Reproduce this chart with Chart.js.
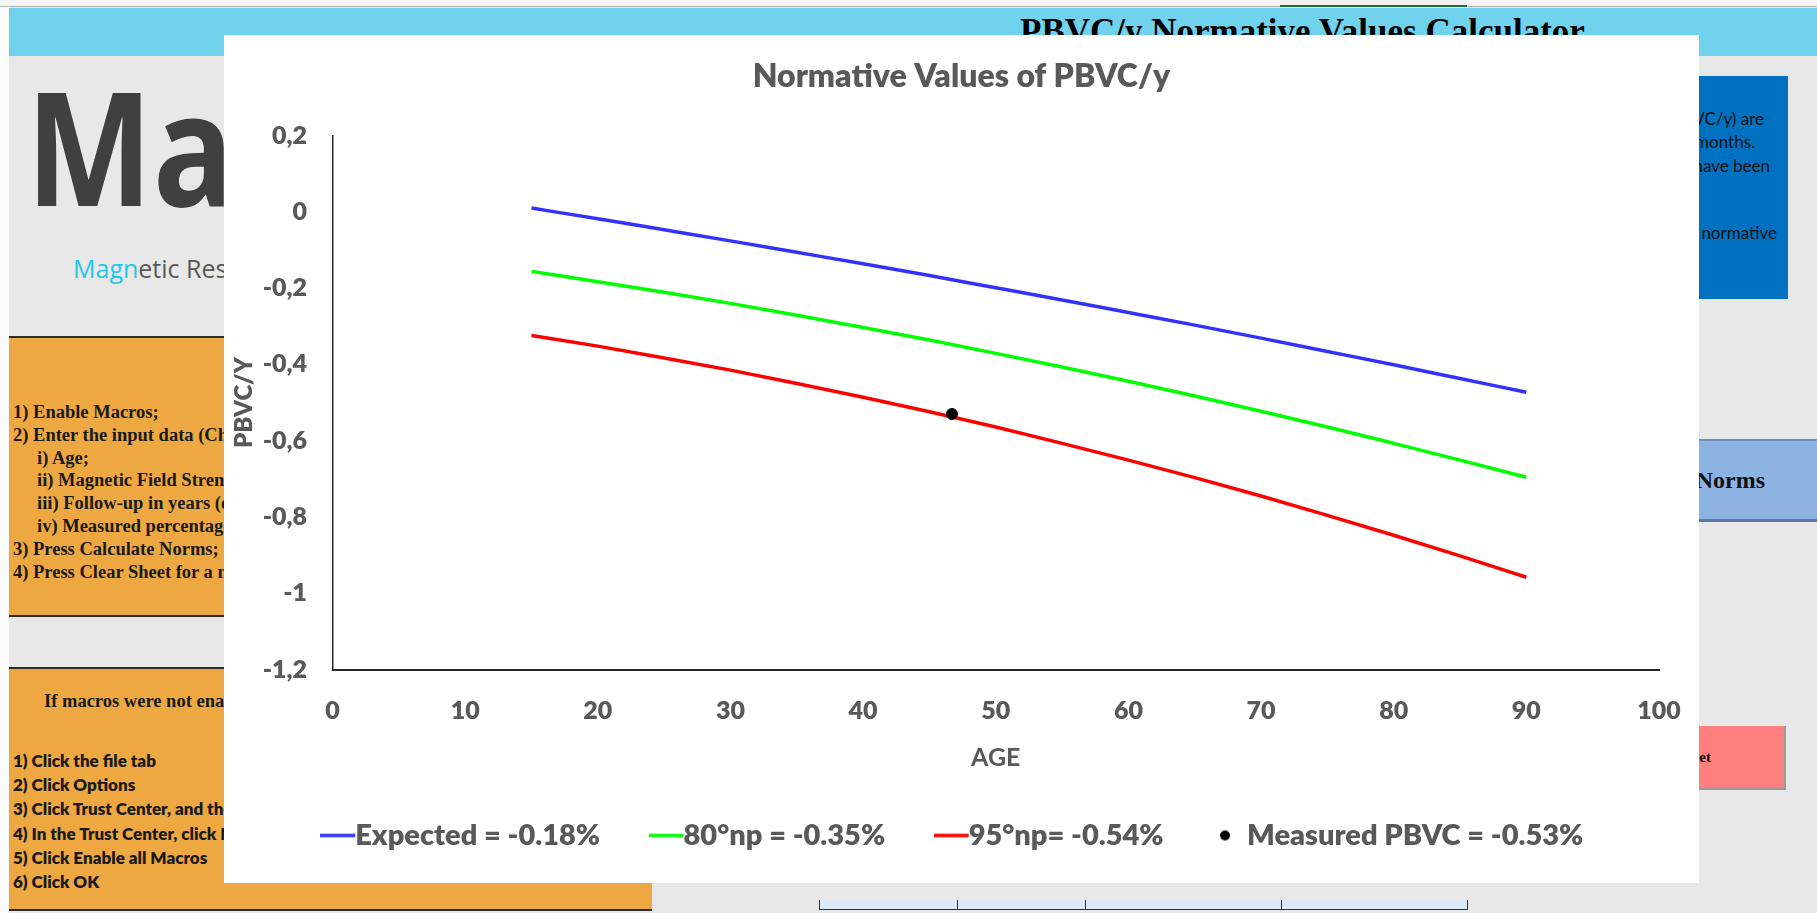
<!DOCTYPE html>
<html>
<head>
<meta charset="utf-8">
<title>PBVC/y Normative Values Calculator</title>
<script src="https://cdn.jsdelivr.net/npm/chart.js@4.4.1/dist/chart.umd.min.js"></script>
<style>
  html, body { margin: 0; padding: 0; }
  body {
    width: 1817px; height: 913px; overflow: hidden; position: relative;
    background: #e8e8e8;
    font-family: Lato, 'Open Sans', sans-serif;
  }
  .abs { position: absolute; white-space: nowrap; }
  .serif { font-family: 'Liberation Serif', 'Times New Roman', serif; font-weight: bold; }
  .steps div { height: 22.8px; line-height: 22.8px; }
  .steps .ind { padding-left: 24px; }
  .macro div { height: 24.2px; line-height: 24.2px; }
  .note { line-height: 20px; height: 20px; font-size: 17px; color: #111; }
</style>
</head>
<body>

<!-- sheet frame -->
<div class="abs" style="left:0;top:0;width:1817px;height:6px;background:#f4f4f4;border-bottom:1px solid #b5b5b5"></div>
<div class="abs" style="left:1280px;top:5px;width:187px;height:2px;background:#1f6b3f"></div>
<div class="abs" style="left:0;top:7px;width:9px;height:906px;background:#fbfbfb"></div>

<!-- banner -->
<div class="abs" style="left:9px;top:8px;width:1808px;height:48px;background:#71d2ee"></div>
<div class="abs serif" style="left:1020px;top:14px;font-size:35px;line-height:1;color:#000">PBVC/y Normative Values Calculator</div>

<!-- logo -->
<div class="abs" style="left:26px;top:66px;font:bold 158px 'Open Sans',sans-serif;line-height:1;color:#404040;transform:scaleX(0.85);transform-origin:0 0">Magnims</div>
<div class="abs" style="left:73px;top:256px;font:25px 'Open Sans',sans-serif;line-height:1;color:#595959"><span style="color:#1fc8e8">Magn</span>etic Resonance Imaging in MS</div>

<!-- instructions -->
<div class="abs" style="left:9px;top:336px;width:700px;height:277px;background:#eda841;border-top:2px solid #2b2b2b;border-bottom:2px solid #2b2b2b"></div>
<div class="abs steps serif" style="left:13px;top:401px;font-size:18.5px;color:#1a1a1a">
  <div>1) Enable Macros;</div>
  <div>2) Enter the input data (Check the blue cells):</div>
  <div class="ind">i) Age;</div>
  <div class="ind">ii) Magnetic Field Strength;</div>
  <div class="ind">iii) Follow-up in years (e.g. 1.5);</div>
  <div class="ind">iv) Measured percentage brain volume change;</div>
  <div>3) Press Calculate Norms;</div>
  <div>4) Press Clear Sheet for a new calculation.</div>
</div>

<div class="abs" style="left:9px;top:667px;width:643px;height:240px;background:#eda841;border-top:2px solid #2b2b2b;border-bottom:2px solid #2b2b2b"></div>
<div class="abs serif" style="left:44px;top:689px;font-size:18.5px;line-height:24px;color:#1a1a1a">If macros were not enabled:</div>
<div class="abs macro" style="left:13px;top:749px;font-size:17px;font-weight:800;color:#1a1a1a">
  <div>1) Click the file tab</div>
  <div>2) Click Options</div>
  <div>3) Click Trust Center, and then Trust Center Settings</div>
  <div>4) In the Trust Center, click Macro Settings</div>
  <div>5) Click Enable all Macros</div>
  <div>6) Click OK</div>
</div>

<!-- right panel -->
<div class="abs" style="left:1600px;top:76px;width:188px;height:223px;background:#0070c0"></div>
<div class="abs note" style="right:53px;top:109px">(PBVC/y) are</div>
<div class="abs note" style="right:62px;top:132px">12 months.</div>
<div class="abs note" style="right:47px;top:156px">have been</div>
<div class="abs note" style="right:40px;top:223px">the normative</div>

<div class="abs" style="left:1600px;top:439px;width:217px;height:78px;background:#8db3e2;border-top:2px solid #6d8fbc;border-bottom:3px solid #5a7aa6"></div>
<div class="abs serif" style="right:52px;top:468px;font-size:24px;line-height:24px;color:#111">Calculate Norms</div>

<div class="abs" style="left:1600px;top:726px;width:184px;height:62px;background:#ff7f7f;border-right:2px solid #9a9a9a;border-bottom:2px solid #9a9a9a"></div>
<div class="abs serif" style="right:106px;top:750px;font-size:15px;line-height:15px;color:#111">Clear Sheet</div>

<!-- input cells -->
<div class="abs" style="left:819px;top:900px;width:647px;height:9px;background:#dce9f8;border:1px solid #333;border-top:none"></div>
<div class="abs" style="left:957px;top:900px;width:1px;height:10px;background:#333"></div>
<div class="abs" style="left:1085px;top:900px;width:1px;height:10px;background:#333"></div>
<div class="abs" style="left:1281px;top:900px;width:1px;height:10px;background:#333"></div>

<!-- chart -->
<div class="abs" style="left:224px;top:35px;width:1475px;height:848px;background:#fff">
  <canvas id="pbvc" width="1475" height="848" style="width:1475px;height:848px;display:block"></canvas>
</div>

<script>
// Age grid (years) and normative PBVC/y curves
const ages         = [15, 20, 25, 30, 35, 40, 45, 50, 55, 60, 65, 70, 75, 80, 85, 90];
const expected     = [0.010, -0.018, -0.047, -0.076, -0.106, -0.136, -0.167, -0.199, -0.231, -0.264, -0.297, -0.331, -0.366, -0.401, -0.437, -0.473];
const percentile80 = [-0.156, -0.183, -0.211, -0.240, -0.271, -0.303, -0.336, -0.371, -0.407, -0.444, -0.483, -0.523, -0.564, -0.607, -0.651, -0.696];
const percentile95 = [-0.324, -0.352, -0.383, -0.415, -0.450, -0.486, -0.524, -0.564, -0.607, -0.651, -0.697, -0.745, -0.796, -0.848, -0.902, -0.958];

// Patient result and the norms at the patient's age
const measuredAge   = 46.7;
const measuredPBVC  = -0.53;
const expectedAtAge = -0.18;
const p80AtAge      = -0.35;
const p95AtAge      = -0.54;

// Axis ticks
const xTickValues = [0, 10, 20, 30, 40, 50, 60, 70, 80, 90, 100];
const xTickLabels = ['0', '10', '20', '30', '40', '50', '60', '70', '80', '90', '100'];
const yTickValues = [0.2, 0, -0.2, -0.4, -0.6, -0.8, -1, -1.2];
const yTickLabels = ['0,2', '0', '-0,2', '-0,4', '-0,6', '-0,8', '-1', '-1,2'];

const pct = v => v.toFixed(2) + '%';
const seriesNames = [
  'Expected = ' + pct(expectedAtAge),
  '80°np = ' + pct(p80AtAge),
  '95°np= ' + pct(p95AtAge),
  'Measured PBVC = ' + pct(measuredPBVC)
];
const seriesColors = ['#3232ff', '#00ff00', '#ff0000', '#000000'];

const FONT = "Lato, 'Open Sans', sans-serif";
const GREY = '#595959';
const HEAVY = '800';
Chart.defaults.font.family = FONT;
Chart.defaults.color = GREY;

// Legend symbols: a short line that runs into the label, or a dot
function legendSymbol(color, kind) {
  const c = document.createElement('canvas');
  c.width = 40; c.height = 12;
  const g = c.getContext('2d');
  if (kind === 'line') {
    g.strokeStyle = color; g.lineWidth = 3.5;
    g.beginPath(); g.moveTo(0, 6); g.lineTo(35, 6); g.stroke();
  } else {
    g.fillStyle = color;
    g.beginPath(); g.arc(13, 6, 5, 0, Math.PI * 2); g.fill();
  }
  return c;
}
const legendSymbols = [
  legendSymbol(seriesColors[0], 'line'),
  legendSymbol(seriesColors[1], 'line'),
  legendSymbol(seriesColors[2], 'line'),
  legendSymbol(seriesColors[3], 'dot')
];

const toPoints = (xs, ys) => xs.map((x, i) => ({ x: x, y: ys[i] }));
const curve = (i, values) => ({
  label: seriesNames[i],
  data: toPoints(ages, values),
  borderColor: seriesColors[i],
  backgroundColor: seriesColors[i],
  borderWidth: 3.5,
  pointRadius: 0,
  cubicInterpolationMode: 'monotone',
  fill: false,
  order: 1
});

const tickFrom = (values, labels) => v => {
  const i = values.findIndex(t => Math.abs(t - v) < 1e-6);
  return i >= 0 ? labels[i] : '';
};

new Chart(document.getElementById('pbvc'), {
  type: 'line',
  data: {
    datasets: [
      curve(0, expected),
      curve(1, percentile80),
      curve(2, percentile95),
      {
        label: seriesNames[3],
        data: [{ x: measuredAge, y: measuredPBVC }],
        showLine: false,
        pointStyle: 'circle',
        pointRadius: 5.5,
        pointBackgroundColor: seriesColors[3],
        pointBorderColor: seriesColors[3],
        borderColor: seriesColors[3],
        backgroundColor: seriesColors[3],
        order: 0
      }
    ]
  },
  options: {
    responsive: false,
    animation: false,
    devicePixelRatio: 1,
    events: [],
    layout: { padding: { left: 0, right: 0, top: 0, bottom: 23 } },
    plugins: {
      title: {
        display: true,
        text: 'Normative Values of PBVC/y',
        color: GREY,
        font: { size: 32, weight: HEAVY },
        padding: { top: 22.1, bottom: 40.1 }
      },
      legend: {
        position: 'bottom',
        labels: {
          usePointStyle: true,
          boxWidth: 1,
          padding: 68,
          color: GREY,
          font: { size: 29, weight: HEAVY },
          sort: (a, b) => a.datasetIndex - b.datasetIndex,
          generateLabels(chart) {
            const items = Chart.defaults.plugins.legend.labels.generateLabels(chart);
            items.forEach(it => { it.pointStyle = legendSymbols[it.datasetIndex]; });
            return items;
          }
        }
      },
      tooltip: { enabled: false }
    },
    scales: {
      x: {
        type: 'linear',
        min: 0, max: 100,
        grid: { display: false, drawTicks: false },
        border: { display: true, color: '#262626', width: 2 },
        ticks: {
          stepSize: 10, padding: 26.5, color: GREY,
          font: { size: 25, weight: HEAVY },
          callback: tickFrom(xTickValues, xTickLabels)
        },
        title: {
          display: true, text: 'AGE', color: GREY,
          font: { size: 25, weight: 'bold' },
          padding: { top: 0, bottom: -20 }
        },
        afterFit(scale) { scale.height = 83.5; scale.paddingRight = 40; }
      },
      y: {
        type: 'linear',
        min: -1.2, max: 0.2,
        grid: { display: false, drawTicks: false },
        border: { display: true, color: '#262626', width: 1.5 },
        ticks: {
          stepSize: 0.2, padding: 25.5, color: GREY,
          font: { size: 25, weight: HEAVY },
          callback: tickFrom(yTickValues, yTickLabels)
        },
        title: {
          display: true, text: 'PBVC/Y', color: GREY,
          font: { size: 24, weight: HEAVY },
          padding: { top: 6.1, bottom: 0 }
        },
        afterFit(scale) { scale.width = 108.5; }
      }
    }
  }
});
</script>
</body>
</html>
